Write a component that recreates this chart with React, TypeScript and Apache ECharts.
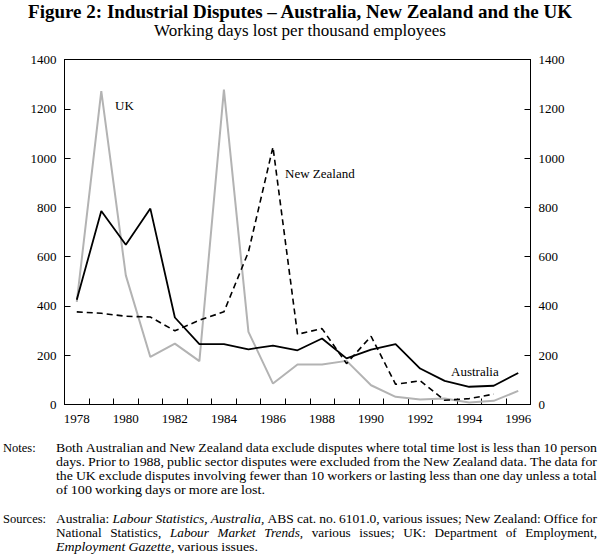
import React, { useEffect, useRef } from "react";
import * as echarts from "echarts";

const YEARS = ["1978","1979","1980","1981","1982","1983","1984","1985","1986","1987","1988","1989","1990","1991","1992","1993","1994","1995","1996"];
const AUSTRALIA = [425, 785, 648, 795, 353, 245, 245, 224, 239, 220, 268, 187, 223, 245, 146, 96, 72, 76, 128];
const NEW_ZEALAND = [376, 370, 358, 355, 299, 342, 376, 619, 1045, 285, 308, 166, 277, 82, 96, 17, 24, 42, null];
const UK = [416, 1272, 524, 193, 247, 176, 1278, 295, 85, 162, 162, 177, 78, 31, 20, 24, 8, 15, 55];
const Y_TICKS = { min: 0, max: 1400, interval: 200 };

const TITLE = "Figure 2: Industrial Disputes \u2013 Australia, New Zealand and the UK";
const SUBTITLE = "Working days lost per thousand employees";

const NOTES = [
  { t: "Both Australian and New Zealand data exclude disputes where total time lost is less than 10 person", end: 597 },
  { t: "days. Prior to 1988, public sector disputes were excluded from the New Zealand data. The data for", end: 597 },
  { t: "the UK exclude disputes involving fewer than 10 workers or lasting less than one day unless a total", end: 597 },
  { t: "of 100 working days or more are lost.", end: 265 },
];
const SOURCES = [
  { t: "Australia: *Labour* *Statistics,* *Australia*, ABS cat. no. 6101.0, various issues; New Zealand: Office for", end: 597 },
  { t: "National Statistics, *Labour* *Market* *Trends*, various issues; UK: Department of Employment,", end: 597, wide: true },
  { t: "*Employment* *Gazette*, various issues.", end: 258 },
];

const FONT = "Liberation Serif";
const FS = 12.5;

function layoutLine(line: { t: string; end: number; wide?: boolean }, x0: number, y: number) {
  const canvas = document.createElement("canvas");
  const ctx = canvas.getContext("2d")!;
  const words = line.t.split(" ").map((w) => {
    const italic = w.includes("*");
    const text = w.replace(/\*/g, "");
    ctx.font = `${italic ? "italic " : ""}${FS}px "${FONT}"`;
    return { text, italic, w: ctx.measureText(text).width };
  });
  const total = words.reduce((s, w) => s + w.w, 0);
  const n = words.length;
  let gap = 3;
  let sx = (line.end - x0 - gap * (n - 1)) / total;
  if (line.wide) {
    sx = 1.06;
    gap = (line.end - x0 - total * sx) / (n - 1);
  }
  const els: any[] = [];
  let x = x0;
  words.forEach((w) => {
    els.push({
      type: "text",
      x,
      y,
      scaleX: sx,
      style: {
        text: w.text,
        fontFamily: FONT,
        fontSize: FS,
        fontStyle: w.italic ? "italic" : "normal",
        fill: "#000",
        textVerticalAlign: "middle",
        verticalAlign: "middle",
      },
    });
    x += w.w * sx + gap;
  });
  return els;
}

export default function App() {
  const ref = useRef<HTMLDivElement>(null);
  useEffect(() => {
    const chart = echarts.init(ref.current!, null, { renderer: "svg" });
    const textEls: any[] = [];
    const noteYs = [448, 462, 476, 490];
    const srcYs = [519, 533, 547];
    NOTES.forEach((l, i) => textEls.push(...layoutLine(l, 56, noteYs[i])));
    SOURCES.forEach((l, i) => textEls.push(...layoutLine(l, 56, srcYs[i])));

    const axisLabel = { color: "#000", fontFamily: FONT, fontSize: 13 };
    const yAxisBase = {
      type: "value",
      ...Y_TICKS,
      axisLine: { show: true, lineStyle: { color: "#000", width: 1 } },
      axisTick: { show: true, inside: true, length: 6, lineStyle: { color: "#000" } },
      splitLine: { show: false },
      axisLabel: { ...axisLabel, margin: 8, formatter: (v: number) => String(v) },
    };

    chart.setOption({
      animation: false,
      backgroundColor: "#fff",
      grid: {
        left: 64.5,
        right: 69.5,
        top: 59.5,
        bottom: 155.5,
        show: true,
        borderColor: "#000",
        borderWidth: 1,
      },
      xAxis: {
        type: "category",
        data: YEARS,
        boundaryGap: true,
        axisLine: { lineStyle: { color: "#000", width: 1 } },
        axisTick: { show: true, inside: true, length: 6, interval: 0, lineStyle: { color: "#000" } },
        axisLabel: { ...axisLabel, interval: 1, margin: 7 },
        splitLine: { show: false },
      },
      yAxis: [
        { ...yAxisBase, position: "left" },
        { ...yAxisBase, position: "right" },
      ],
      series: [
        {
          name: "UK",
          type: "line",
          data: UK,
          symbol: "none",
          lineStyle: { color: "#b3b3b3", width: 2 },
          z: 2,
        },
        {
          name: "New Zealand",
          type: "line",
          data: NEW_ZEALAND,
          symbol: "none",
          lineStyle: { color: "#000", width: 1.6, type: [6, 4] },
          z: 3,
        },
        {
          name: "Australia",
          type: "line",
          data: AUSTRALIA,
          symbol: "none",
          lineStyle: { color: "#000", width: 1.8 },
          z: 4,
        },
      ],
      graphic: [
        {
          type: "text",
          x: 300,
          y: 11,
          style: {
            text: TITLE,
            fontFamily: FONT,
            fontSize: 19,
            fontWeight: "bold",
            fill: "#000",
            textAlign: "center",
            textVerticalAlign: "middle",
            verticalAlign: "middle",
          },
        },
        {
          type: "text",
          x: 300,
          y: 30,
          style: {
            text: SUBTITLE,
            fontFamily: FONT,
            fontSize: 17,
            fill: "#000",
            textAlign: "center",
            textVerticalAlign: "middle",
            verticalAlign: "middle",
          },
        },
        { type: "text", x: 115, y: 105, style: { text: "UK", fontFamily: FONT, fontSize: 13, fill: "#000", textVerticalAlign: "middle", verticalAlign: "middle" } },
        { type: "text", x: 285, y: 173, style: { text: "New Zealand", fontFamily: FONT, fontSize: 13, fill: "#000", textVerticalAlign: "middle", verticalAlign: "middle" } },
        { type: "text", x: 451, y: 371, style: { text: "Australia", fontFamily: FONT, fontSize: 13, fill: "#000", textVerticalAlign: "middle", verticalAlign: "middle" } },
        { type: "text", x: 3, y: 448, style: { text: "Notes:", fontFamily: FONT, fontSize: 12.5, fill: "#000", textVerticalAlign: "middle", verticalAlign: "middle" } },
        { type: "text", x: 3, y: 519, style: { text: "Sources:", fontFamily: FONT, fontSize: 12.5, fill: "#000", textVerticalAlign: "middle", verticalAlign: "middle" } },
        ...textEls,
      ],
    });
    return () => chart.dispose();
  }, []);
  return (
    <div style={{ position: "absolute", left: 0, top: 0 }}>
      <div ref={ref} style={{ width: 600, height: 560 }} />
    </div>
  );
}
